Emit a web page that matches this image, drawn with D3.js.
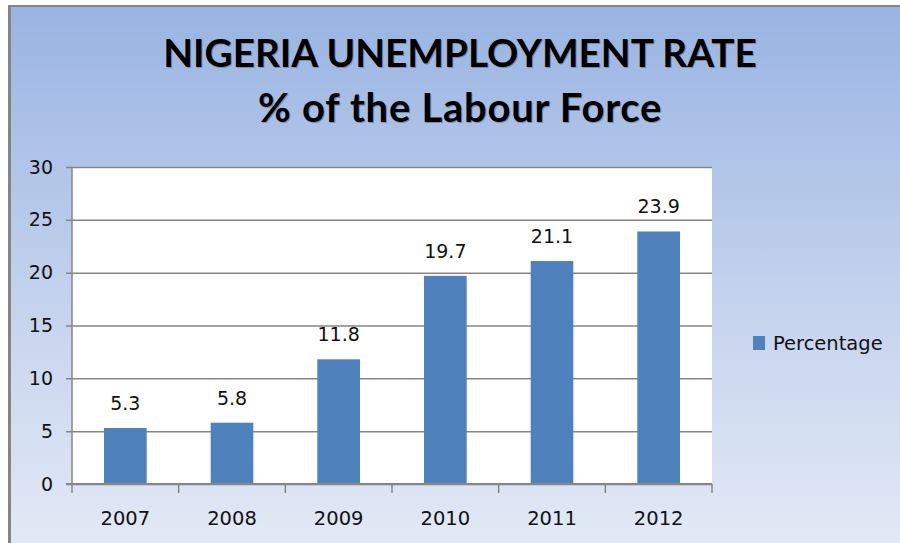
<!DOCTYPE html>
<html>
<head>
<meta charset="utf-8">
<script src="https://cdn.jsdelivr.net/npm/d3@7"></script>
<style>
  html, body { margin: 0; padding: 0; background: #fff; }
  svg { display: block; }
</style>
</head>
<body>
<svg id="chart" width="900" height="543"></svg>
<script>
const years = ["2007", "2008", "2009", "2010", "2011", "2012"];
const rates = [5.3, 5.8, 11.8, 19.7, 21.1, 23.9];
const yTicks = [0, 5, 10, 15, 20, 25, 30];
const seriesName = "Percentage";
const titleLines = ["NIGERIA UNEMPLOYMENT RATE", "% of the Labour Force"];

const svg = d3.select("#chart");
const W = 900, H = 543;
const plot = { left: 72, right: 712, top: 167, bottom: 484 };
const barColor = "#4f81bd";
const gridColor = "#868686";
const labelFont = "'DejaVu Sans', Verdana, sans-serif";

// background gradient
const defs = svg.append("defs");
const grad = defs.append("linearGradient")
  .attr("id", "bg").attr("x1", 0).attr("y1", 0).attr("x2", 0).attr("y2", 1);
grad.append("stop").attr("offset", "0%").attr("stop-color", "#99b4e2");
grad.append("stop").attr("offset", "60%").attr("stop-color", "#c8d5ee");
grad.append("stop").attr("offset", "100%").attr("stop-color", "#e2e9f6");

svg.append("rect")
  .attr("x", 10).attr("y", 6)
  .attr("width", W - 10).attr("height", H - 6)
  .attr("fill", "url(#bg)");

// frame lines (top, left)
svg.append("line")
  .attr("x1", 8).attr("x2", W).attr("y1", 6).attr("y2", 6)
  .attr("stroke", "#858585").attr("stroke-width", 2);
svg.append("line")
  .attr("x1", 9.5).attr("x2", 9.5).attr("y1", 5).attr("y2", H)
  .attr("stroke", "#858585").attr("stroke-width", 3);

// title: each line sized to the width it has in the reference
const titleY = [67, 122];
const titleW = [594, 404];
titleLines.forEach((t, i) => {
  const g = svg.append("g")
    .attr("font-family", "Lato, 'Open Sans', sans-serif")
    .attr("font-weight", "bold")
    .attr("text-anchor", "middle")
    .attr("font-size", 38);
  g.append("text")
    .attr("x", 461).attr("y", titleY[i] + 1)
    .attr("fill", "#7a8aa8")
    .text(t);
  const main = g.append("text")
    .attr("x", 460).attr("y", titleY[i])
    .attr("fill", "#000")
    .text(t);
  const len = main.node().getComputedTextLength();
  g.attr("font-size", Math.min(40, 38 * titleW[i] / len));
  if (i === 1) {
    const len2 = main.node().getComputedTextLength();
    g.selectAll("text").attr("letter-spacing", (titleW[i] - len2) / t.length);
  }
});

// scales
const x = d3.scaleBand()
  .domain(years)
  .range([plot.left, plot.right])
  .paddingInner(0.6)
  .paddingOuter(0.3);

const xEdge = d3.scaleBand()
  .domain(years)
  .range([plot.left, plot.right]);

const y = d3.scaleLinear()
  .domain([0, 30])
  .range([plot.bottom, plot.top]);

// plot area
svg.append("rect")
  .attr("x", plot.left).attr("y", plot.top)
  .attr("width", plot.right - plot.left)
  .attr("height", plot.bottom - plot.top)
  .attr("fill", "#fff");

// gridlines + y axis
const yAxis = svg.append("g")
  .attr("transform", `translate(${plot.left},0)`)
  .call(d3.axisLeft(y)
    .tickValues(yTicks)
    .tickSize(-(plot.right - plot.left))
    .tickPadding(19)
    .tickFormat(d3.format("d")));
yAxis.select(".domain").remove();
yAxis.selectAll(".tick line")
  .attr("x1", -6)
  .attr("stroke", gridColor)
  .attr("stroke-width", 1.5);
yAxis.selectAll(".tick text")
  .attr("font-family", labelFont)
  .attr("font-size", 19)
  .attr("fill", "#111");

svg.append("line")
  .attr("x1", plot.left).attr("x2", plot.left)
  .attr("y1", plot.top).attr("y2", plot.bottom)
  .attr("stroke", gridColor).attr("stroke-width", 1.5);

// bars
svg.selectAll(".bar")
  .data(rates)
  .enter()
  .append("rect")
  .attr("class", "bar")
  .attr("x", (d, i) => x(years[i]))
  .attr("y", (d) => y(d))
  .attr("width", x.bandwidth())
  .attr("height", (d) => y(0) - y(d))
  .attr("fill", barColor);

// data labels
svg.selectAll(".val")
  .data(rates)
  .enter()
  .append("text")
  .attr("class", "val")
  .attr("x", (d, i) => x(years[i]) + x.bandwidth() / 2)
  .attr("y", (d) => y(d) - 18)
  .attr("text-anchor", "middle")
  .attr("font-family", labelFont)
  .attr("font-size", 19)
  .attr("fill", "#111")
  .text((d) => d3.format(".1f")(d));

// x axis
const xAxis = svg.append("g")
  .attr("transform", `translate(0,${plot.bottom})`);
xAxis.append("line")
  .attr("x1", plot.left - 6).attr("x2", plot.right)
  .attr("stroke", gridColor).attr("stroke-width", 2);
const edges = years.map((yr) => xEdge(yr)).concat([plot.right]);
xAxis.selectAll(".xtick")
  .data(edges)
  .enter()
  .append("line")
  .attr("class", "xtick")
  .attr("x1", (d) => d).attr("x2", (d) => d)
  .attr("y1", 0).attr("y2", 9)
  .attr("stroke", gridColor).attr("stroke-width", 1.5);
xAxis.selectAll(".xlabel")
  .data(years)
  .enter()
  .append("text")
  .attr("class", "xlabel")
  .attr("x", (d) => xEdge(d) + xEdge.bandwidth() / 2)
  .attr("y", 41)
  .attr("text-anchor", "middle")
  .attr("font-family", labelFont)
  .attr("font-size", 19.5)
  .attr("fill", "#111")
  .text((d) => d);

// legend
const legend = svg.append("g").attr("transform", "translate(753,336)");
legend.append("rect")
  .attr("width", 12).attr("height", 14)
  .attr("fill", barColor);
legend.append("text")
  .attr("x", 20).attr("y", 14)
  .attr("font-family", labelFont)
  .attr("font-size", 19.5)
  .attr("fill", "#111")
  .text(seriesName);
</script>
</body>
</html>
